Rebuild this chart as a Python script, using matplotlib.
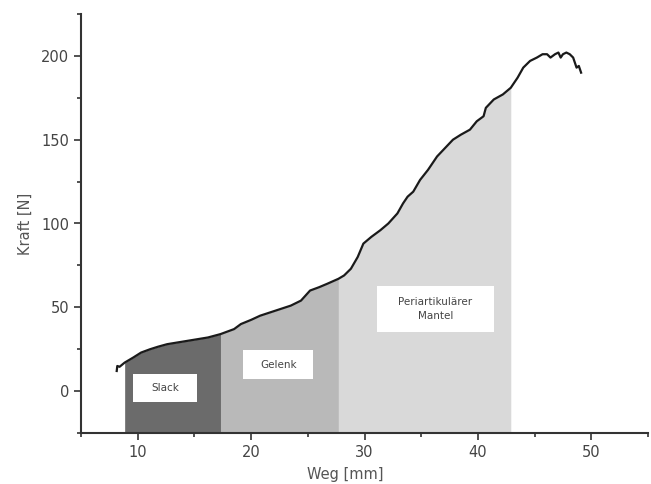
import numpy as np
import matplotlib
matplotlib.use("Agg")
import matplotlib.pyplot as plt
from matplotlib.patches import Rectangle
from matplotlib.ticker import MultipleLocator

# Force–displacement curve (Weg in mm, Kraft in N)
weg = [8.15, 8.2, 8.4, 8.85, 9.6, 10.3, 11.1, 11.8, 12.6, 13.5, 14.4, 15.3, 16.2,
       17.3, 18.5, 19.1, 20.0, 20.8, 21.7, 22.6, 23.5, 24.4, 24.8, 25.2, 26.0,
       26.7, 27.2, 27.7, 28.2, 28.8, 29.4, 29.9, 30.6, 31.4, 32.1, 32.9, 33.4,
       33.8, 34.3, 34.9, 35.6, 36.4, 37.1, 37.8, 38.5, 39.3, 39.9, 40.5, 40.7,
       41.4, 42.2, 42.9, 43.5, 44.0, 44.6, 45.2, 45.7, 46.1, 46.4, 46.8, 47.1,
       47.3, 47.5, 47.8, 48.1, 48.4, 48.7, 48.9, 49.1]
kraft = [12, 15, 14.5, 17, 20, 23, 25, 26.5, 28, 29, 30, 31, 32,
         34, 37, 40, 42.5, 45, 47, 49, 51, 54, 57, 60, 62,
         64, 65.5, 67, 69, 73, 80, 88, 92, 96, 100, 106, 112,
         116, 119, 126, 132, 140, 145, 150, 153, 156, 161, 164, 169,
         174, 177, 181, 187, 193, 197, 199, 201, 201, 199, 201, 202,
         199, 201, 202, 201, 199, 193, 194, 190]

# Phases of the curve: name, start, end, fill colour
phase_names = ["Slack", "Gelenk", "Periartikulärer\nMantel"]
phase_bounds = [(8.85, 17.3), (17.3, 27.7), (27.7, 42.9)]
phase_colors = ["#6b6b6b", "#b9b9b9", "#d9d9d9"]
# white label boxes: (x0, x1, y0, y1) in data units
label_box = [(9.6, 15.2, -6.6, 10.2), (19.3, 25.5, 7.2, 24.5), (31.1, 41.4, 35.0, 63.0)]

x_ticks = [10, 20, 30, 40, 50]
y_ticks = [0, 50, 100, 150, 200]

W, H = 651, 484
fig = plt.figure(figsize=(W / 100, H / 100), dpi=100)
ax = fig.add_axes([81 / W, 1 - 433 / H, (648 - 81) / W, (433 - 14) / H])

ymin, ymax = -25, 225
ax.set_xlim(5, 55)
ax.set_ylim(ymin, ymax)

wx = np.array(weg)
ky = np.array(kraft)
for (a, b), col in zip(phase_bounds, phase_colors):
    inner = wx[(wx > a) & (wx < b)]
    xs = np.concatenate([[a], inner, [b]])
    ys = np.interp(xs, wx, ky)
    ax.fill_between(xs, ymin, ys, color=col, lw=0, zorder=1)

ax.plot(weg, kraft, color="#1a1a1a", lw=1.6, zorder=3)

for name, (x0, x1, y0, y1) in zip(phase_names, label_box):
    ax.add_patch(Rectangle((x0, y0), x1 - x0, y1 - y0, fc="white", ec="none", zorder=4))
    ax.text((x0 + x1) / 2, (y0 + y1) / 2, name, ha="center", va="center",
            fontsize=7.5, color="#444444", family="DejaVu Sans",
            linespacing=1.5, zorder=5)

for sp in ["top", "right"]:
    ax.spines[sp].set_visible(False)
for sp in ["left", "bottom"]:
    ax.spines[sp].set_color("#333333")
    ax.spines[sp].set_linewidth(1.5)

ax.set_xticks(x_ticks)
ax.set_yticks(y_ticks)
ax.xaxis.set_minor_locator(MultipleLocator(5))
ax.yaxis.set_minor_locator(MultipleLocator(25))
ax.tick_params(which="major", direction="out", length=5, width=1.2,
               color="#333333", labelsize=10.5, labelcolor="#444444")
ax.tick_params(which="minor", direction="out", length=3, width=1.2,
               color="#333333")

ax.set_ylabel("Kraft [N]", fontsize=10.5, color="#555555", labelpad=6)
fig.text(345 / W, 0.004, "Weg [mm]", ha="center", va="bottom",
         fontsize=10.5, color="#555555")

fig.savefig("out.png", dpi=100, facecolor="white")
